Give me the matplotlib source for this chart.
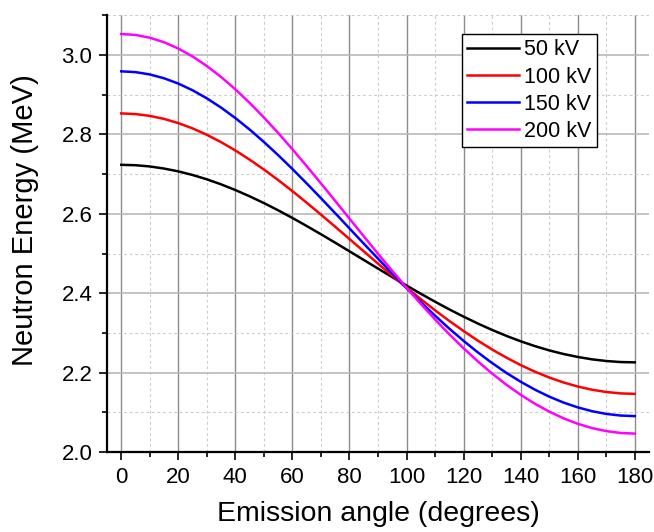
import numpy as np
import matplotlib
matplotlib.use("Agg")
from matplotlib import pyplot as plt
from matplotlib.ticker import MultipleLocator, FormatStrFormatter

plt.rcParams['font.family'] = ['Liberation Sans', 'DejaVu Sans']

# emission angle (degrees), every 5 deg
angle = [0, 5, 10, 15, 20, 25, 30, 35, 40, 45, 50, 55, 60, 65, 70, 75, 80, 85, 90,
         95, 100, 105, 110, 115, 120, 125, 130, 135, 140, 145, 150, 155, 160, 165, 170, 175, 180]

# neutron energy (MeV)
e_50 = [2.7234, 2.7224, 2.7193, 2.7140, 2.7069, 2.6978, 2.6869, 2.6742, 2.6599, 2.6441,
        2.6271, 2.6088, 2.5895, 2.5693, 2.5485, 2.5272, 2.5055, 2.4838, 2.4620, 2.4405,
        2.4193, 2.3986, 2.3785, 2.3592, 2.3409, 2.3236, 2.3074, 2.2925, 2.2789, 2.2667,
        2.2560, 2.2469, 2.2394, 2.2334, 2.2292, 2.2266, 2.2258]
e_100 = [2.8529, 2.8513, 2.8467, 2.8391, 2.8285, 2.8152, 2.7991, 2.7805, 2.7596, 2.7365,
         2.7116, 2.6851, 2.6571, 2.6280, 2.5980, 2.5674, 2.5365, 2.5055, 2.4746, 2.4440,
         2.4141, 2.3850, 2.3570, 2.3301, 2.3046, 2.2806, 2.2582, 2.2377, 2.2190, 2.2023,
         2.1877, 2.1752, 2.1649, 2.1569, 2.1511, 2.1476, 2.1464]
e_150 = [2.9589, 2.9569, 2.9511, 2.9414, 2.9281, 2.9112, 2.8909, 2.8675, 2.8412, 2.8123,
         2.7810, 2.7478, 2.7129, 2.6766, 2.6394, 2.6015, 2.5632, 2.5250, 2.4870, 2.4496,
         2.4130, 2.3775, 2.3434, 2.3108, 2.2799, 2.2509, 2.2240, 2.1993, 2.1770, 2.1570,
         2.1395, 2.1246, 2.1124, 2.1028, 2.0959, 2.0918, 2.0904]
e_200 = [3.0529, 3.0506, 3.0436, 3.0322, 3.0164, 2.9964, 2.9724, 2.9447, 2.9136, 2.8795,
         2.8427, 2.8037, 2.7627, 2.7202, 2.6767, 2.6325, 2.5879, 2.5435, 2.4994, 2.4562,
         2.4140, 2.3732, 2.3339, 2.2966, 2.2613, 2.2282, 2.1976, 2.1695, 2.1442, 2.1215,
         2.1018, 2.0849, 2.0711, 2.0603, 2.0526, 2.0479, 2.0463]

labels = ['50 kV', '100 kV', '150 kV', '200 kV']
colors = ['#000000', '#ff0000', '#0000ff', '#ff00ff']

fig = plt.figure(figsize=(6.54, 5.32), dpi=100)
ax = fig.add_axes([0.1636, 0.1504, 0.8288, 0.8208])

for y, lab, c in zip([e_50, e_100, e_150, e_200], labels, colors):
    ax.plot(angle, y, color=c, lw=1.8, label=lab, zorder=3)

ax.set_xlim(-5, 185)
ax.set_ylim(2.0, 3.1)
ax.xaxis.set_major_locator(MultipleLocator(20))
ax.xaxis.set_minor_locator(MultipleLocator(10))
ax.yaxis.set_major_locator(MultipleLocator(0.2))
ax.yaxis.set_minor_locator(MultipleLocator(0.1))
ax.yaxis.set_major_formatter(FormatStrFormatter('%.1f'))

# grid: darker verticals, lighter horizontals, dashed minors
ax.xaxis.grid(True, which='major', color='#8c8c8c', lw=1.0)
ax.yaxis.grid(True, which='major', color='#b9b9b9', lw=1.2)
ax.grid(True, which='minor', color='#cccccc', lw=0.8, ls=(0, (2.5, 2.5)))
ax.set_axisbelow(True)

for s in ['top', 'right']:
    ax.spines[s].set_visible(False)
for s in ['left', 'bottom']:
    ax.spines[s].set_linewidth(1.6)

ax.tick_params(which='major', direction='out', length=5.5, width=1.2, labelsize=16, pad=5)
ax.tick_params(which='minor', direction='out', length=3.5, width=1.2)

ax.set_xlabel('Emission angle (degrees)', fontsize=20.5, labelpad=10)
ax.set_ylabel('Neutron Energy (MeV)', fontsize=21, labelpad=16)
ax.yaxis.label.set_y(0.53)

leg = ax.legend(loc='upper right', bbox_to_anchor=(0.904, 0.957), borderaxespad=0,
                fontsize=15.5, fancybox=False, framealpha=1, edgecolor='black',
                handlelength=2.4, handletextpad=0.25, labelspacing=0.28,
                borderpad=0.25)
leg.get_frame().set_linewidth(1.0)

fig.savefig('out.png', dpi=100)
